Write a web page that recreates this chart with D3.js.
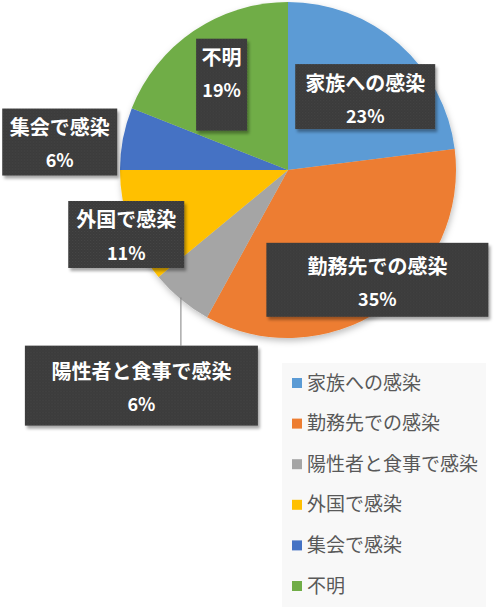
<!DOCTYPE html>
<head>
    <meta charset="utf-8">
    <script src="https://cdnjs.cloudflare.com/ajax/libs/d3/7.8.5/d3.min.js" charset="utf-8"></script>
    <style>
        html, body {
            margin: 0px;
            padding: 0px;
            background: #fff;
        }
        svg {
            display: block;
        }
        text {
            font-family: "Noto Sans CJK JP", "Noto Sans", sans-serif;
        }
    </style>
</head>

<body>
<div id="chart1"></div>

<script>
// data
var categories = ["家族への感染", "勤務先での感染", "陽性者と食事で感染", "外国で感染", "集会で感染", "不明"];
var shares = [23, 35, 6, 11, 6, 19];
var colors = ["#5B9BD5", "#ED7D31", "#A5A5A5", "#FFC000", "#4472C4", "#70AD47"];

// label layout (Excel labels were dragged by hand)
var labelNudge = [[5, 12], [28, 23], [-77, 134], [-59, 30], [-121, -5], [-5, -5]];
var boxSize = [[140, 65], [222, 74], [233, 80], [116, 67], [115, 67], [51, 92]];
var boxTop = [36, 40.5, 42.5, 36, 36, 36];

var width = 500, height = 614,
    cx = 288, cy = 170, radius = 168;

var svg = d3.select('#chart1').append('svg')
    .attr('width', width)
    .attr('height', height);

var defs = svg.append('defs');
var pieShadow = defs.append('filter').attr('id', 'pieShadow')
    .attr('x', '-20%').attr('y', '-20%').attr('width', '140%').attr('height', '140%');
pieShadow.append('feDropShadow')
    .attr('dx', 1).attr('dy', 3).attr('stdDeviation', 3)
    .attr('flood-color', '#000').attr('flood-opacity', 0.25);

var boxShadow = defs.append('filter').attr('id', 'boxShadow')
    .attr('x', '-20%').attr('y', '-20%').attr('width', '140%').attr('height', '140%');
boxShadow.append('feDropShadow')
    .attr('dx', 2).attr('dy', 3).attr('stdDeviation', 1.5)
    .attr('flood-color', '#000').attr('flood-opacity', 0.35);

var pat = defs.append('pattern').attr('id', 'dots')
    .attr('width', 3).attr('height', 3)
    .attr('patternUnits', 'userSpaceOnUse');
pat.append('rect').attr('width', 3).attr('height', 3).attr('fill', '#3a3a3a');
pat.append('rect').attr('width', 1).attr('height', 1).attr('fill', '#474747');
pat.append('rect').attr('x', 1.5).attr('y', 1.5).attr('width', 1).attr('height', 1).attr('fill', '#474747');

var pie = d3.pie().sort(null).value(function(d) { return d; });
var arcs = pie(shares);
var arc = d3.arc().innerRadius(0).outerRadius(radius);
var centroidArc = d3.arc().innerRadius(radius * 0.65).outerRadius(radius * 0.65);

var g = svg.append('g').attr('transform', 'translate(' + cx + ',' + cy + ')');

g.append('g').attr('filter', 'url(#pieShadow)')
    .selectAll('path')
    .data(arcs)
    .enter().append('path')
    .attr('d', arc)
    .attr('fill', function(d, i) { return colors[i]; });

// leader line for the small grey slice
var grey = arcs[2];
var mid = (grey.startAngle + grey.endAngle) / 2;
var lx = Math.sin(mid) * radius, ly = -Math.cos(mid) * radius;
var greyC = centroidArc.centroid(grey);
var greyTextY = greyC[1] + labelNudge[2][1];
g.append('line')
    .attr('x1', lx).attr('y1', ly - 2)
    .attr('x2', lx).attr('y2', greyTextY - boxTop[2])
    .attr('stroke', '#7f7f7f').attr('stroke-width', 1);

var labels = g.selectAll('.lbl')
    .data(arcs)
    .enter().append('g')
    .attr('class', 'lbl')
    .attr('transform', function(d, i) {
        var c = centroidArc.centroid(d);
        return 'translate(' + (c[0] + labelNudge[i][0]) + ',' + (c[1] + labelNudge[i][1]) + ')';
    });

labels.append('rect')
    .attr('x', function(d, i) { return -boxSize[i][0] / 2; })
    .attr('y', function(d, i) { return -boxTop[i]; })
    .attr('width', function(d, i) { return boxSize[i][0]; })
    .attr('height', function(d, i) { return boxSize[i][1]; })
    .attr('fill', 'url(#dots)')
    .attr('filter', 'url(#boxShadow)');

labels.append('text')
    .attr('y', -16.5)
    .attr('dy', '0.35em')
    .attr('text-anchor', 'middle')
    .attr('fill', '#fff')
    .style('font-size', '20px')
    .style('font-weight', 'bold')
    .text(function(d, i) { return categories[i]; });

labels.append('text')
    .attr('y', 16.5)
    .attr('dy', '0.35em')
    .attr('text-anchor', 'middle')
    .attr('fill', '#fff')
    .style('font-size', '18px')
    .style('font-weight', 'bold')
    .text(function(d) { return d3.format('.0%')(d.value / d3.sum(shares)); });

// legend
var legend = svg.append('g').attr('transform', 'translate(282,363)');
legend.append('rect')
    .attr('width', 204).attr('height', 244)
    .attr('fill', '#f8f8f8');

var rowY = d3.scalePoint().domain(categories).range([20, 223]);
var item = legend.selectAll('.item')
    .data(categories)
    .enter().append('g')
    .attr('class', 'item')
    .attr('transform', function(d) { return 'translate(0,' + rowY(d) + ')'; });

item.append('rect')
    .attr('x', 10).attr('y', -5)
    .attr('width', 10).attr('height', 10)
    .attr('fill', function(d, i) { return colors[i]; });

item.append('text')
    .attr('x', 25)
    .attr('dy', '0.35em')
    .attr('fill', '#595959')
    .style('font-size', '19px')
    .text(function(d) { return d; });
</script>

</body>
</html>
